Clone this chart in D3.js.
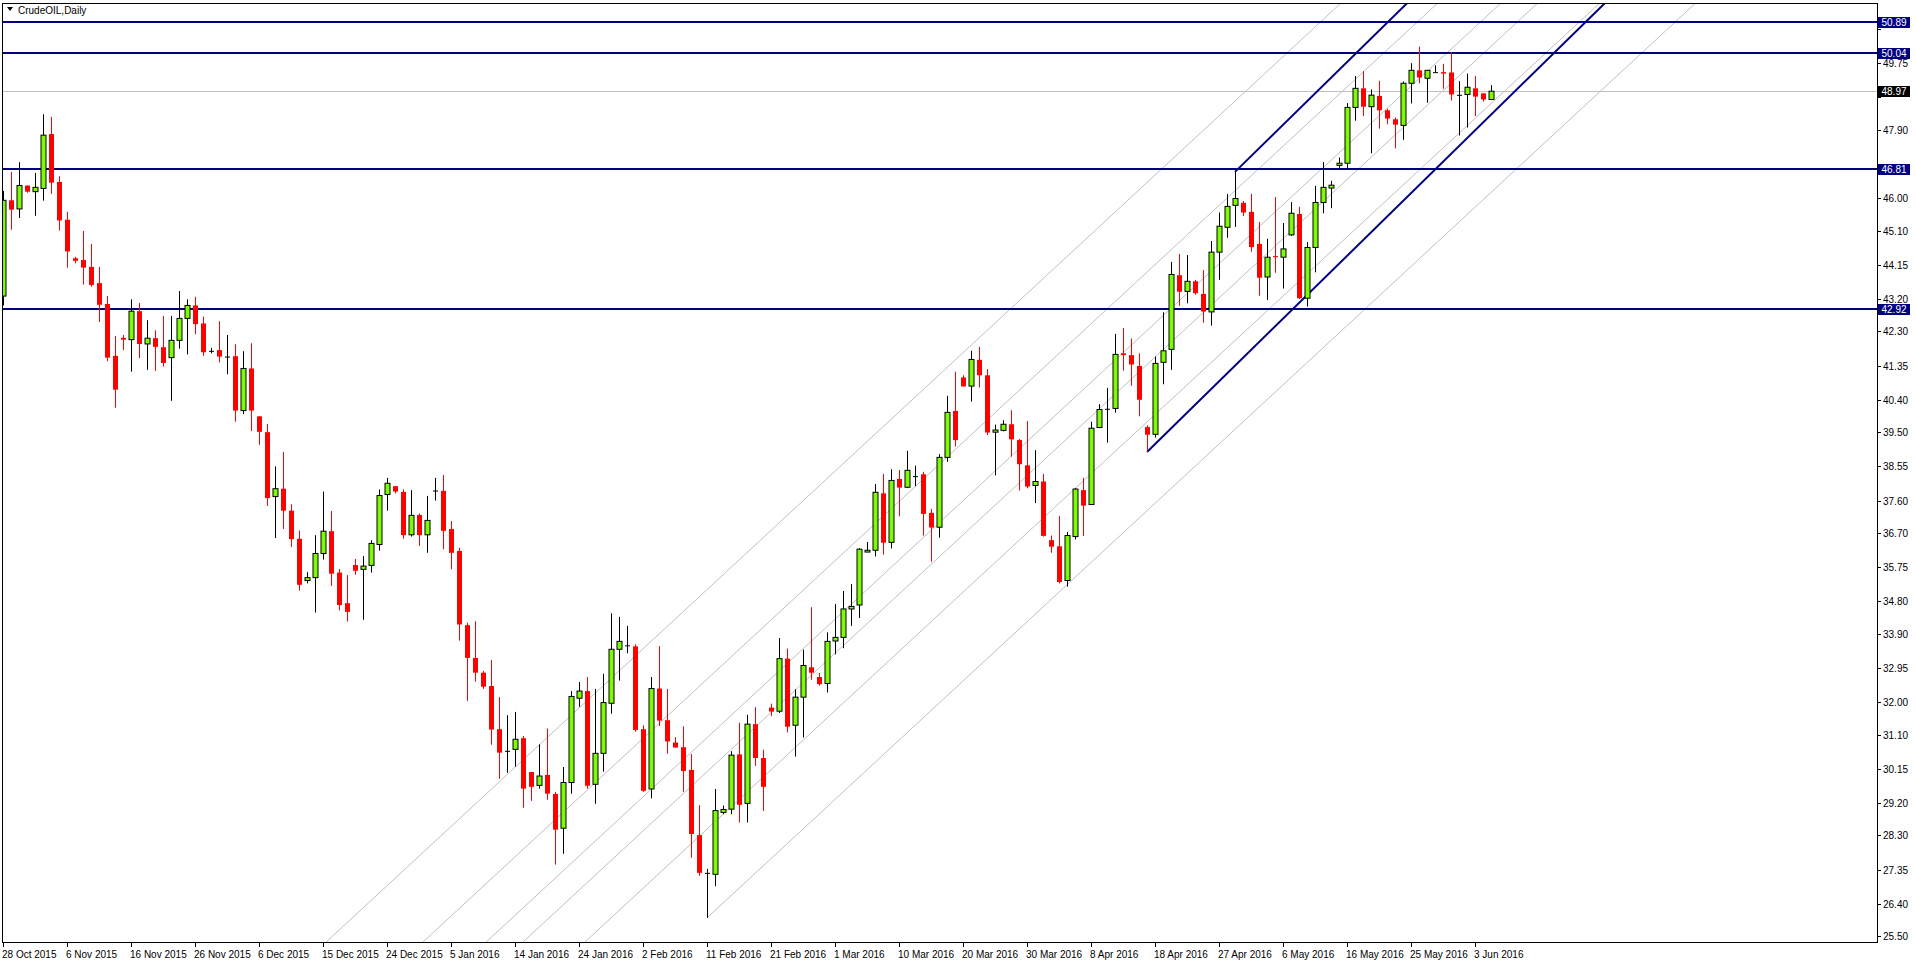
<!DOCTYPE html>
<html>
<head>
<meta charset="utf-8">
<script src="https://cdn.jsdelivr.net/npm/d3@7"></script>
<style>
  body { margin: 0; background: #fff; }
  text { font-family: "Liberation Sans", Arial, sans-serif; font-size: 10px; }
</style>
</head>
<body>
<div id="chart"></div>
<script>
// daily candles (index 0 = 28 Oct 2015)
var opens = [43.28,45.94,45.70,46.35,46.18,46.27,47.78,46.45,45.40,44.33,44.28,44.09,43.64,43.06,41.62,42.12,42.07,42.86,41.95,42.11,
  41.86,41.57,42.05,42.66,43.02,42.52,41.76,41.78,41.60,41.61,40.10,41.27,39.94,39.50,37.71,37.93,37.32,36.54,35.38,35.46,
  36.13,36.75,35.60,34.75,35.81,35.69,35.80,36.38,37.77,38.00,37.84,36.65,37.20,36.65,37.88,37.87,36.81,36.20,34.14,33.23,
  32.82,32.45,31.25,30.65,30.69,31.00,30.06,29.69,29.98,29.45,28.50,29.77,32.11,32.31,29.72,30.58,31.97,33.47,33.58,33.55,
  31.25,29.59,32.38,31.50,30.88,30.75,30.12,28.31,27.26,27.22,28.94,29.03,30.55,29.19,31.39,30.45,31.85,31.75,33.21,31.36,
  32.14,32.97,32.70,32.52,33.70,33.80,34.59,34.70,36.17,36.22,37.80,36.44,38.20,37.97,38.28,38.33,37.26,36.86,38.80,40.09,
  41.02,40.78,41.51,41.08,39.50,39.55,39.72,39.28,38.58,38.02,38.13,36.50,36.33,35.38,36.60,37.89,37.49,39.63,40.15,40.16,
  41.69,41.64,41.34,39.64,39.44,41.44,41.80,43.86,43.41,43.69,43.34,42.84,44.50,45.19,45.80,45.87,45.62,44.73,43.81,44.39,
  44.36,44.98,45.56,43.22,44.63,45.88,46.28,46.91,46.97,48.52,49.05,48.54,48.84,48.44,48.19,48.02,49.19,49.55,49.33,49.50,
  49.50,49.49,48.87,48.88,49.05,48.91,48.74];
var highs = [46.20,46.73,47.00,46.35,46.70,48.33,48.26,46.61,45.62,44.37,45.09,44.73,44.09,43.28,42.17,42.20,43.19,43.09,42.61,42.33,
  42.73,42.73,43.42,43.19,43.26,42.71,41.84,42.58,42.20,41.94,41.75,41.97,39.94,39.73,38.55,38.95,37.50,36.77,35.61,36.64,
  37.85,37.31,35.70,35.53,35.98,36.06,36.50,37.91,38.23,38.00,37.91,37.89,37.24,37.73,38.23,38.31,37.03,36.29,34.21,34.25,
  32.87,33.17,32.14,31.64,31.73,31.06,30.06,30.83,31.27,29.51,30.20,32.31,32.56,32.70,32.37,32.79,34.47,34.37,34.12,33.61,
  31.36,32.70,33.56,32.37,31.03,31.33,30.56,29.14,27.37,29.59,29.13,30.64,31.43,31.65,31.86,30.68,31.96,33.78,33.49,32.36,
  33.46,34.64,32.81,33.94,34.73,35.09,35.28,36.28,36.45,38.06,38.34,38.47,38.45,38.98,38.57,38.40,37.37,38.89,40.51,41.18,
  41.08,41.76,41.87,41.25,39.71,39.83,40.11,39.31,39.81,39.00,38.34,36.63,37.17,36.73,37.95,38.23,39.79,40.28,40.73,42.23,
  42.39,42.10,41.69,39.69,41.60,42.83,44.23,44.45,44.42,43.73,44.00,44.81,45.60,46.12,46.73,45.92,46.12,45.34,44.87,46.03,
  45.31,45.89,45.76,44.78,46.34,47.00,46.48,47.13,48.64,49.39,49.53,49.02,49.26,48.48,48.24,49.24,49.75,50.21,49.55,49.69,
  49.73,50.05,49.25,49.46,49.39,48.91,49.14];
var lows = [43.02,45.12,45.45,46.15,45.51,45.93,46.12,45.10,44.07,44.19,43.60,43.54,42.56,41.47,40.18,41.78,41.18,41.56,41.23,41.20,
  41.32,40.37,41.82,41.66,42.22,41.62,41.69,41.44,41.11,39.79,40.00,39.53,39.15,37.45,36.56,36.81,36.31,35.10,35.30,34.49,
  35.96,35.23,34.55,34.24,35.54,34.29,35.60,36.21,37.32,37.80,36.54,36.60,36.34,36.15,37.60,36.25,35.69,33.71,32.04,32.57,
  32.37,30.82,29.87,30.04,30.21,29.07,29.26,29.60,29.29,27.49,27.79,29.46,31.87,29.60,29.18,30.07,31.68,32.60,33.36,31.18,
  29.51,29.33,31.34,30.57,30.74,29.51,27.68,27.18,26.01,26.89,28.89,28.89,28.66,28.66,30.23,28.98,31.61,31.70,31.16,30.49,
  31.02,32.62,32.46,32.27,33.33,33.50,34.12,34.34,36.17,36.05,36.10,36.27,37.16,37.95,38.00,36.63,35.90,36.57,38.68,39.10,
  40.77,40.35,40.74,39.42,38.30,39.52,38.82,37.88,37.94,37.53,36.60,36.15,35.30,35.21,36.52,36.62,37.49,39.61,39.21,40.04,
  41.21,40.79,39.94,38.95,39.35,40.83,41.23,43.01,43.08,43.32,42.54,42.46,43.73,44.90,45.20,45.50,44.51,43.29,43.17,43.93,
  43.49,44.95,43.20,42.99,43.94,45.58,45.72,46.84,46.84,48.15,48.28,47.25,47.93,48.05,47.38,47.62,48.63,49.19,48.65,49.50,
  49.04,48.71,47.74,47.96,48.28,48.68,48.74];
var closes = [45.94,45.68,46.35,46.18,46.30,47.75,46.43,45.38,44.52,44.26,44.07,43.59,43.04,41.57,40.68,42.07,42.86,41.95,42.11,41.87,
  41.42,42.05,42.66,43.02,42.50,41.72,41.76,41.60,41.60,40.10,41.27,40.10,39.51,37.67,37.93,37.32,36.53,35.26,35.46,36.13,
  36.75,35.57,34.70,34.51,35.65,35.78,36.41,37.74,38.08,37.85,36.64,37.19,36.64,37.05,37.88,36.76,36.15,34.16,33.23,32.82,
  32.43,31.24,30.60,30.65,30.97,29.60,29.65,29.95,29.46,28.46,29.77,32.16,32.31,29.68,30.58,31.99,33.47,33.69,33.58,31.23,
  29.54,32.38,31.49,30.91,30.74,30.09,28.34,27.26,27.26,28.99,29.02,30.53,29.15,31.39,30.45,29.65,31.74,33.21,31.32,32.14,
  33.02,32.82,32.50,33.69,33.80,34.59,34.66,36.25,36.22,37.83,36.43,38.16,37.96,38.44,38.28,37.23,36.85,38.80,40.05,39.28,
  40.77,41.52,41.08,39.49,39.56,39.72,39.30,38.61,37.99,38.13,36.62,36.32,35.34,36.63,37.92,37.46,39.61,40.13,40.15,41.66,
  41.64,41.38,40.40,39.43,41.41,41.76,43.88,43.40,43.69,43.36,42.85,44.50,45.22,45.77,45.99,45.60,44.64,43.79,44.36,44.36,
  44.59,45.58,43.22,44.63,45.88,46.30,46.36,46.97,48.52,49.05,48.54,48.86,48.44,48.21,48.04,49.19,49.55,49.35,49.55,49.50,
  49.46,48.88,48.87,49.08,48.82,48.74,48.97];

var dateLabels = ["28 Oct 2015","6 Nov 2015","16 Nov 2015","26 Nov 2015","6 Dec 2015","15 Dec 2015","24 Dec 2015",
  "5 Jan 2016","14 Jan 2016","24 Jan 2016","2 Feb 2016","11 Feb 2016","21 Feb 2016","1 Mar 2016","10 Mar 2016",
  "20 Mar 2016","30 Mar 2016","8 Apr 2016","18 Apr 2016","27 Apr 2016","6 May 2016","16 May 2016","25 May 2016","3 Jun 2016"];
var priceTicks = [50.70,49.75,48.80,47.90,46.95,46.00,45.10,44.15,43.20,42.30,41.35,40.40,39.50,38.55,37.60,36.70,
  35.75,34.80,33.90,32.95,32.00,31.10,30.15,29.20,28.30,27.35,26.40,25.50];
var levels = [50.89, 50.04, 46.81, 42.92];
var lastPrice = 48.97;

// channel lines: start [bar, price], slope in price per bar
var blueStarts = [[143, 38.95], [154, 46.73]];
var blueSlope = 0.2178;
var grayStarts = [[40.4, 25.34], [52.5, 25.34], [60.4, 25.34], [65, 25.34], [72.75, 25.34], [88, 26.01]];
var graySlope = 0.2056;

var W = 1916, H = 963;
var pLeft = 2, pRight = 1877, pTop = 3, pBottom = 942;

var x = d3.scaleLinear().domain([0, 1]).range([3, 11]);
var y = d3.scaleLinear().domain([25.34, 51.42]).range([pBottom, pTop]);

var svg = d3.select("#chart").append("svg").attr("width", W).attr("height", H);

svg.append("clipPath").attr("id", "clip").append("rect")
  .attr("x", pLeft).attr("y", pTop).attr("width", pRight - pLeft).attr("height", pBottom - pTop);

var plot = svg.append("g").attr("clip-path", "url(#clip)");

function channel(g, starts, slope, color, width) {
  var endBar = 260;
  g.selectAll(null).data(starts).enter().append("line")
    .attr("x1", function (d) { return x(d[0]); })
    .attr("y1", function (d) { return y(d[1]); })
    .attr("x2", x(endBar))
    .attr("y2", function (d) { return y(d[1] + slope * (endBar - d[0])); })
    .attr("stroke", color).attr("stroke-width", width);
}
channel(plot, grayStarts, graySlope, "#c0c0c0", 1);

// last price line
plot.append("line").attr("x1", pLeft).attr("x2", pRight)
  .attr("y1", Math.round(y(lastPrice)) + 0.5).attr("y2", Math.round(y(lastPrice)) + 0.5)
  .attr("stroke", "#c0c0c0").attr("stroke-width", 1);

channel(plot, blueStarts, blueSlope, "#000080", 2);

plot.selectAll(".lvl").data(levels).enter().append("line")
  .attr("x1", pLeft).attr("x2", pRight)
  .attr("y1", function (d) { return Math.round(y(d)); })
  .attr("y2", function (d) { return Math.round(y(d)); })
  .attr("stroke", "#000080").attr("stroke-width", 2);

// candles
var bars = d3.range(opens.length);
var cg = plot.selectAll(".c").data(bars).enter().append("g");
cg.append("line")
  .attr("x1", function (i) { return Math.round(x(i)) + 0.5; })
  .attr("x2", function (i) { return Math.round(x(i)) + 0.5; })
  .attr("y1", function (i) { return y(highs[i]); })
  .attr("y2", function (i) { return y(lows[i]); })
  .attr("stroke", function (i) { return closes[i] < opens[i] ? "#ff0000" : "#000"; })
  .attr("stroke-width", 1);
cg.append("rect")
  .attr("x", function (i) { return Math.round(x(i)) - 2; })
  .attr("width", 5)
  .attr("y", function (i) { return y(Math.max(opens[i], closes[i])); })
  .attr("height", function (i) { return Math.max(1, Math.abs(y(opens[i]) - y(closes[i]))); })
  .attr("fill", function (i) {
    if (closes[i] > opens[i]) return "#7cfc00";
    if (closes[i] < opens[i]) return "#ff0000";
    return "#000";
  })
  .attr("stroke", function (i) { return closes[i] > opens[i] ? "#000" : "none"; })
  .attr("stroke-width", 1);

// frame
svg.append("rect").attr("x", pLeft + 0.5).attr("y", pTop + 0.5)
  .attr("width", pRight - pLeft).attr("height", pBottom - pTop)
  .attr("fill", "none").attr("stroke", "#000");

// right axis (tick labels hidden under a price box are left out)
var boxed = levels.concat([lastPrice]);
var shownTicks = priceTicks.filter(function (t) {
  return boxed.every(function (p) { return Math.abs(y(p) - y(t)) > 10; });
});
var ra = svg.append("g");
ra.selectAll("line").data(priceTicks).enter().append("line")
  .attr("x1", pRight).attr("x2", pRight + 4)
  .attr("y1", function (d) { return Math.round(y(d)) + 0.5; })
  .attr("y2", function (d) { return Math.round(y(d)) + 0.5; })
  .attr("stroke", "#000");
ra.selectAll("text").data(shownTicks).enter().append("text")
  .attr("x", pRight + 6).attr("y", function (d) { return y(d) + 4; })
  .text(function (d) { return d.toFixed(2); });

function priceBox(p, color) {
  var yy = Math.round(y(p));
  svg.append("rect").attr("x", pRight + 1).attr("y", yy - 5).attr("width", 32).attr("height", 11).attr("fill", color);
  svg.append("text").attr("x", pRight + 17).attr("y", yy + 4).attr("text-anchor", "middle")
    .attr("fill", "#fff").text(p.toFixed(2));
}
levels.forEach(function (p) { priceBox(p, "#000080"); });
priceBox(lastPrice, "#000");

// bottom axis
var ba = svg.append("g");
ba.selectAll("line").data(dateLabels).enter().append("line")
  .attr("x1", function (d, k) { return Math.round(x(k * 8)) + 0.5; })
  .attr("x2", function (d, k) { return Math.round(x(k * 8)) + 0.5; })
  .attr("y1", pBottom).attr("y2", pBottom + 5).attr("stroke", "#000");
ba.selectAll("text").data(dateLabels).enter().append("text")
  .attr("x", function (d, k) { return x(k * 8) - 1; })
  .attr("y", pBottom + 16)
  .text(function (d) { return d; });

// title
svg.append("path").attr("d", "M7,7 L13,7 L10,11 Z").attr("fill", "#000");
svg.append("text").attr("x", 18).attr("y", 14).text("CrudeOIL,Daily");
</script>
</body>
</html>
